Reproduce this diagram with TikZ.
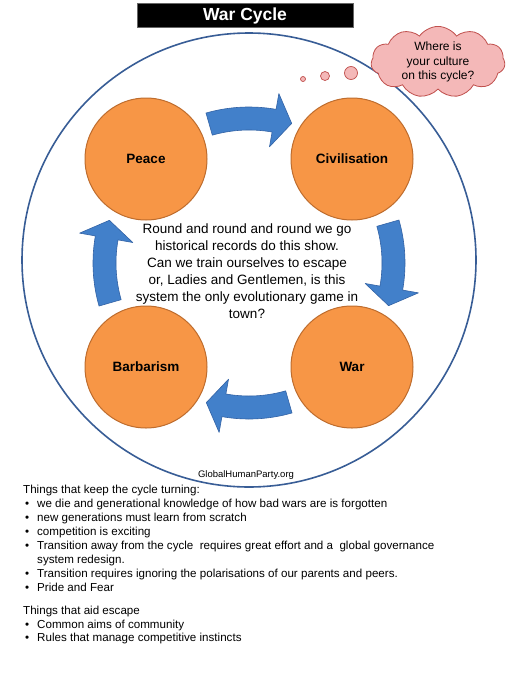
\documentclass[tikz,border=0pt]{standalone}
\usepackage{fontspec}
\setmainfont{Liberation Sans}
\usetikzlibrary{shapes.symbols}
\definecolor{orangefill}{RGB}{247,150,70}
\definecolor{orangeedge}{RGB}{190,108,45}
\definecolor{ringblue}{RGB}{56,93,150}
\definecolor{arrowblue}{RGB}{66,128,202}
\definecolor{arrowedge}{RGB}{50,98,165}
\definecolor{cloudpink}{RGB}{244,184,184}
\definecolor{cloudedge}{RGB}{192,80,77}
\newcommand{\bul}{\makebox[14pt][l]{\hspace{2pt}\textbullet}}
\tikzset{
  stage/.style={circle, minimum size=122pt, inner sep=0pt, fill=orangefill, draw=orangeedge, line width=1pt, font=\fontsize{13.5}{16}\selectfont\bfseries},
  ring/.style={draw=ringblue, line width=1.6pt},
  blockarrow/.style={fill=arrowblue, draw=arrowedge, line width=0.6pt, line join=round},
  bubble/.style={circle, inner sep=0pt, fill=cloudpink, draw=cloudedge, line width=0.7pt},
  listline/.style={anchor=base west, inner sep=0pt, font=\fontsize{11.6}{14}\selectfont},
}
\begin{document}
\begin{tikzpicture}[x=1pt,y=-1pt]
\useasboundingbox (0,0) rectangle (506,683);
\fill[white] (0,0) rectangle (506,683);

% big ring
\draw[ring] (249,260) circle[radius=227];

% title
\node[fill=black, draw=black!60, minimum width=216pt, minimum height=24pt, inner sep=0pt,
      text=white, text height=12.6pt, text depth=1.5pt, font=\fontsize{17.5}{20}\selectfont\bfseries] (title) at (245,15) {War Cycle};

% stages
\node[stage] (peace) at (146,159) {Peace};
\node[stage] (civ) at (352,159) {Civilisation};
\node[stage] (barb) at (146,367) {Barbarism};
\node[stage] (war) at (352,367) {War};

% curved block arrows
\foreach \r in {0,-90,-180,-270}{
  \begin{scope}[shift={(249,263)}, yscale=-1, rotate=\r]
    \filldraw[blockarrow] (106:156) arc[start angle=106,end angle=80,radius=156]
      -- (80:172) -- (73:146) -- (80:118) -- (80:133)
      arc[start angle=80,end angle=106,radius=133] -- cycle;
  \end{scope}
}

% central text
\node[align=center, inner sep=0pt, font=\fontsize{13.5}{17}\selectfont] (centre) at (247,271)
 {Round and round and round we go\\
  historical records do this show.\\
  Can we train ourselves to escape\\
  or, Ladies and Gentlemen, is this\\
  system the only evolutionary game in\\
  town?};

% thought cloud
\node[cloud, cloud puffs=11, cloud puff arc=110, aspect=2, minimum width=134pt, minimum height=66pt,
      inner sep=0pt, fill=cloudpink, draw=cloudedge, line width=0.8pt, align=center,
      font=\fontsize{12}{14.5}\selectfont] (cloud) at (438,62) {Where is\\your culture\\on this cycle?};
\node[bubble, minimum size=5pt] (b1) at (303,79) {};
\node[bubble, minimum size=9pt] (b2) at (325,76) {};
\node[bubble, minimum size=13pt] (b3) at (351,73) {};

% site
\node[inner sep=0pt, font=\fontsize{9.5}{11}\selectfont] (site) at (246,475) {GlobalHumanParty.org};

% lists
\node[listline] (l1) at (23,493) {Things that keep the cycle turning:};
\node[listline] (l2) at (23,507) {\bul we die and generational knowledge of how bad wars are is forgotten};
\node[listline] (l3) at (23,521) {\bul new generations must learn from scratch};
\node[listline] (l4) at (23,535) {\bul competition is exciting};
\node[listline] (l5) at (23,549) {\bul Transition away from the cycle\ \ requires great effort and a\ \ global governance};
\node[listline] (l6) at (37,563) {system redesign.};
\node[listline] (l7) at (23,577) {\bul Transition requires ignoring the polarisations of our parents and peers.};
\node[listline] (l8) at (23,591) {\bul Pride and Fear};
\node[listline] (l9) at (23,614) {Things that aid escape};
\node[listline] (l10) at (23,628) {\bul Common aims of community};
\node[listline] (l11) at (23,641) {\bul Rules that manage competitive instincts};
\end{tikzpicture}
\end{document}
